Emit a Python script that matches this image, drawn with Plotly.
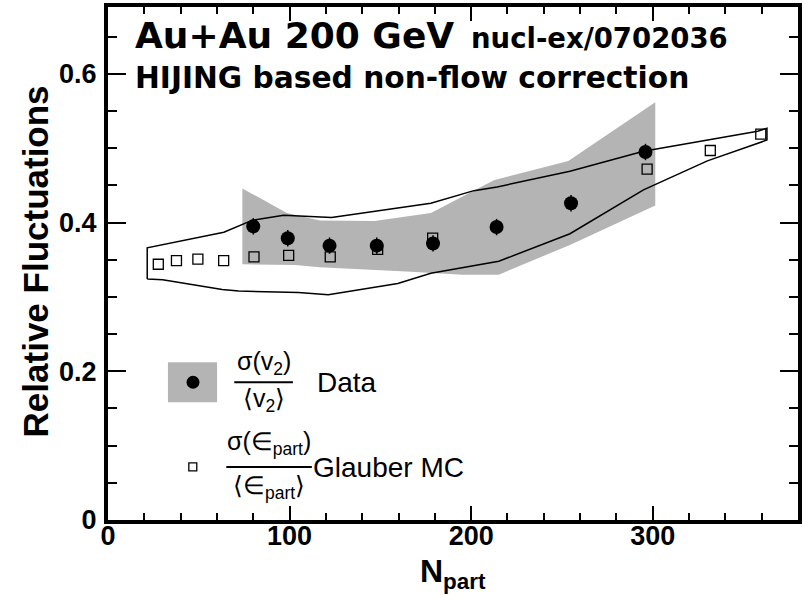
import plotly.graph_objects as go

# ---------------- data ----------------
npart_data = [80, 99, 122, 148, 179, 214, 255, 296]
fluct_data = [0.395, 0.379, 0.369, 0.369, 0.372, 0.394, 0.426, 0.495]

# systematic band of the data (upper edge left->right, lower edge right->left)
band_up_x = [74, 74, 98.5, 116.7, 146.8, 177.8, 212.5, 253.5, 301.4]
band_up_y = [0.344, 0.446, 0.413, 0.403, 0.402, 0.413, 0.457, 0.483, 0.562]
band_lo_x = [301.4, 254.4, 215.2, 195.1, 166.8, 116.7, 103.1, 74]
band_lo_y = [0.423, 0.370, 0.330, 0.330, 0.334, 0.340, 0.343, 0.344]

npart_glauber = [27.7, 37.7, 49.5, 63.7, 80.4, 99.5, 122.4, 148.5, 178.8, 296.9, 331.7, 359.5]
fluct_glauber = [0.344, 0.349, 0.351, 0.349, 0.354, 0.356, 0.354, 0.364, 0.379, 0.472, 0.497, 0.519]

# Glauber envelope (closed outline)
env_up_x = [21.6, 21.6, 63.8, 79.3, 96.7, 123.1, 177.8, 201.5, 214.3, 254.4, 294.9, 357.8, 362.9]
env_up_y = [0.324, 0.366, 0.387, 0.403, 0.410, 0.407, 0.426, 0.443, 0.448, 0.469, 0.496, 0.523, 0.527]
env_lo_x = [362.9, 330.1, 294.9, 254.4, 215.2, 177.8, 159.6, 121.3, 104.9, 72.0, 62.9, 30.1, 21.6]
env_lo_y = [0.511, 0.483, 0.444, 0.385, 0.348, 0.332, 0.318, 0.303, 0.306, 0.308, 0.310, 0.323, 0.324]

x_range = [0, 380]
y_range = [0, 0.69]
x_ticks = [0, 100, 200, 300]
y_ticks = [0, 0.2, 0.4, 0.6]
y_tick_text = ["0", "0.2", "0.4", "0.6"]

GRAY = "rgb(180,180,180)"
SANS = "Liberation Sans, Arial, Helvetica, sans-serif"
TITLEF = "DejaVu Sans, Liberation Sans, sans-serif"

fig = go.Figure()

fig.add_trace(go.Scatter(
    x=band_up_x + band_lo_x, y=band_up_y + band_lo_y,
    fill="toself", fillcolor=GRAY, mode="lines", line=dict(width=0, color=GRAY),
    hoverinfo="skip", showlegend=False))

fig.add_trace(go.Scatter(
    x=env_up_x + env_lo_x, y=env_up_y + env_lo_y,
    mode="lines", line=dict(color="black", width=1.5),
    hoverinfo="skip", showlegend=False))

fig.add_trace(go.Scatter(
    x=npart_glauber, y=fluct_glauber, mode="markers",
    marker=dict(symbol="square-open", size=10, color="black", line=dict(width=1.3, color="black")),
    showlegend=False))

# data points drawn on the overlaid (top/right) axes, which share the same ranges
fig.add_trace(go.Scatter(
    x=npart_data, y=fluct_data, mode="markers", xaxis="x2", yaxis="y2",
    marker=dict(symbol="circle", size=14, color="black"),
    error_y=dict(type="constant", value=0.011, thickness=1.5, width=0, color="black"),
    showlegend=False))

# ---------------- layout ----------------
L, T, W, H = 108, 5, 694, 515


def pxx(px):
    return (px - L) / W


def pxy(py):
    return (T + H - py) / H


TF = dict(family=SANS, size=27, color="black", weight="bold")
xminor = dict(dtick=20, ticklen=7, ticks="inside", tickwidth=1.5, tickcolor="black")
yminor = dict(dtick=0.05, ticklen=9, ticks="inside", tickwidth=1.5, tickcolor="black")

fig.update_layout(
    width=805, height=595,
    margin=dict(l=L, r=805 - L - W, t=T, b=595 - T - H),
    paper_bgcolor="white", plot_bgcolor="white",
    xaxis=dict(range=x_range, tickvals=x_ticks, ticklen=14, ticks="inside", tickwidth=1.5,
               tickcolor="black", minor=xminor, showline=True, linewidth=4, linecolor="black",
               mirror=True, showgrid=False, zeroline=False, tickfont=TF, ticklabelstandoff=-11),
    yaxis=dict(range=y_range, tickvals=y_ticks, ticktext=y_tick_text, ticklen=18, ticks="inside",
               tickwidth=1.5, tickcolor="black", minor=yminor, showline=True, linewidth=4,
               linecolor="black", mirror=True, showgrid=False, zeroline=False, tickfont=TF,
               ticklabelstandoff=2),
    xaxis2=dict(range=x_range, overlaying="x", side="top", anchor="y", tickvals=x_ticks, ticklen=14,
                ticks="inside", tickwidth=1.5, tickcolor="black", minor=xminor,
                showticklabels=False, showline=False, showgrid=False, zeroline=False),
    yaxis2=dict(range=y_range, overlaying="y", side="right", anchor="x", tickvals=y_ticks, ticklen=18,
                ticks="inside", tickwidth=1.5, tickcolor="black", minor=yminor,
                showticklabels=False, showline=False, showgrid=False, zeroline=False),
    showlegend=False,
)

ann = []
# titles inside the frame
ann.append(dict(text="Au+Au 200 GeV", x=pxx(133), y=pxy(34), xanchor="left", yanchor="middle",
                font=dict(family=TITLEF, size=36, color="black", weight="bold")))
ann.append(dict(text="nucl-ex/0702036", x=pxx(471), y=pxy(36), xanchor="left", yanchor="middle",
                font=dict(family=TITLEF, size=27.5, color="black", weight="bold")))
ann.append(dict(text="HIJING based non-flow correction", x=pxx(133), y=pxy(76), xanchor="left",
                yanchor="middle", font=dict(family=TITLEF, size=29.7, color="black", weight="bold")))
# axis titles
ann.append(dict(text="N<sub>part</sub>", x=pxx(455), y=pxy(574), xanchor="center", yanchor="middle",
                font=dict(family=SANS, size=32, color="black", weight="bold")))
ann.append(dict(text="Relative Fluctuations", x=pxx(35), y=pxy(260), xanchor="center", yanchor="middle",
                textangle=-90, font=dict(family=SANS, size=35, color="black", weight="bold")))
# legend texts
LF = dict(family=SANS, size=25, color="black")
ann.append(dict(text="σ(v<sub>2</sub>)", x=pxx(265), y=pxy(362), xanchor="center", yanchor="middle", font=LF))
ann.append(dict(text="⟨v<sub>2</sub>⟩", x=pxx(265), y=pxy(400), xanchor="center", yanchor="middle", font=LF))
ann.append(dict(text="Data", x=pxx(316), y=pxy(382), xanchor="left", yanchor="middle",
                font=dict(family=SANS, size=28, color="black")))
ann.append(dict(text="σ(∈<sub>part</sub>)", x=pxx(270), y=pxy(443), xanchor="center", yanchor="middle", font=LF))
ann.append(dict(text="⟨∈<sub>part</sub>⟩", x=pxx(270), y=pxy(487), xanchor="center", yanchor="middle", font=LF))
ann.append(dict(text="Glauber MC", x=pxx(312), y=pxy(467), xanchor="left", yanchor="middle",
                font=dict(family=SANS, size=28, color="black")))
for a in ann:
    a.update(xref="paper", yref="paper", showarrow=False)
fig.update_layout(annotations=ann)

shapes = [
    dict(type="rect", x0=pxx(168.3), x1=pxx(217.7), y0=pxy(401.7), y1=pxy(361.7),
         fillcolor=GRAY, line=dict(width=0)),
    dict(type="circle", x0=pxx(187), x1=pxx(200), y0=pxy(388.2), y1=pxy(375.2),
         fillcolor="black", line=dict(width=0)),
    dict(type="rect", x0=pxx(189.3), x1=pxx(197.3), y0=pxy(470.7), y1=pxy(462.7),
         fillcolor="white", line=dict(width=1.3, color="black")),
    dict(type="line", x0=pxx(235), x1=pxx(294), y0=pxy(381.7), y1=pxy(381.7),
         line=dict(width=2, color="black")),
    dict(type="line", x0=pxx(227), x1=pxx(313), y0=pxy(466.7), y1=pxy(466.7),
         line=dict(width=2, color="black")),
]
for s in shapes:
    s.update(xref="paper", yref="paper", layer="above")
fig.update_layout(shapes=shapes)

fig.write_html("out.html")
